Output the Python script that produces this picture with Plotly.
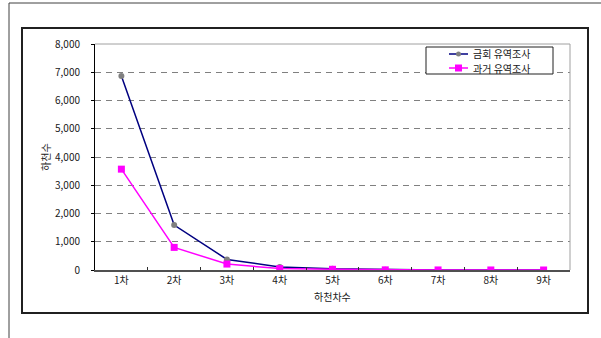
import plotly.graph_objects as go

# Stream order categories and counts per survey
orders = ["1차", "2차", "3차", "4차", "5차", "6차", "7차", "8차", "9차"]
current_survey = [6870, 1590, 375, 110, 40, 10, 4, 1, 0]
past_survey = [3570, 800, 210, 50, 25, 5, 2, 1, 0]
y_ticks = [0, 1000, 2000, 3000, 4000, 5000, 6000, 7000, 8000]
y_tick_text = ["0", "1,000", "2,000", "3,000", "4,000", "5,000", "6,000", "7,000", "8,000"]
series_names = ["금회 유역조사", "과거 유역조사"]
line_colors = ["#000080", "#FF00FF"]
marker_colors = ["#808080", "#FF00FF"]

W, H = 601, 338
PL, PR, PT, PB = 95, 570, 44, 270  # plot area in pixels


def px(x):
    return (x - PL) / (PR - PL)


def py(y):
    return (PB - y) / (PB - PT)


FONT = "Noto Sans CJK KR, DejaVu Sans, sans-serif"
TXT = "#202020"

fig = go.Figure()
fig.add_trace(go.Scatter(
    x=orders, y=current_survey, name=series_names[0], mode="lines+markers",
    line=dict(color=line_colors[0], width=1.5),
    marker=dict(symbol="circle", size=6, color=marker_colors[0]),
))
fig.add_trace(go.Scatter(
    x=orders, y=past_survey, name=series_names[1], mode="lines+markers",
    line=dict(color=line_colors[1], width=1.5),
    marker=dict(symbol="square", size=7, color=marker_colors[1]),
))

shapes = [
    # outer page frame (left and top edges)
    dict(type="line", xref="paper", yref="paper", x0=px(9), x1=px(9), y0=py(3), y1=py(340),
         line=dict(color="#404040", width=1)),
    dict(type="line", xref="paper", yref="paper", x0=px(9), x1=px(602), y0=py(3), y1=py(3),
         line=dict(color="#404040", width=1)),
    # chart box
    dict(type="rect", xref="paper", yref="paper", x0=px(22), x1=px(588), y0=py(28), y1=py(313),
         line=dict(color="#202020", width=2)),
    # plot area top and right border
    dict(type="line", xref="paper", yref="paper", x0=0, x1=1, y0=1, y1=1,
         line=dict(color="#A0A0A0", width=1)),
    dict(type="line", xref="paper", yref="paper", x0=1, x1=1, y0=0, y1=1,
         line=dict(color="#A0A0A0", width=1)),
    # legend box
    dict(type="rect", xref="paper", yref="paper", x0=px(426), x1=px(553), y0=py(47), y1=py(74),
         line=dict(color="#202020", width=1), fillcolor="white", layer="above"),
]

annotations = [
    dict(text="하천수", xref="paper", yref="paper", x=px(45), y=py(157),
         xanchor="center", yanchor="middle",
         showarrow=False, textangle=-90, font=dict(family=FONT, size=10, color=TXT)),
    dict(text="하천차수", xref="paper", yref="paper", x=px(332), y=py(296),
         xanchor="center", yanchor="middle",
         showarrow=False, font=dict(family=FONT, size=10, color=TXT)),
]

# legend rows: line sample, marker sample, label
row_y = [54, 68]
for i, yy in enumerate(row_y):
    shapes.append(dict(type="line", xref="paper", yref="paper", x0=px(449), x1=px(468),
                       y0=py(yy), y1=py(yy), line=dict(color=line_colors[i], width=1.5),
                       layer="above"))
    if i == 0:
        shapes.append(dict(type="circle", xref="paper", yref="paper",
                           x0=px(456), x1=px(461), y0=py(yy - 2.5), y1=py(yy + 2.5),
                           fillcolor=marker_colors[i], line=dict(width=0), layer="above"))
    else:
        shapes.append(dict(type="rect", xref="paper", yref="paper",
                           x0=px(455), x1=px(462), y0=py(yy - 3.5), y1=py(yy + 3.5),
                           fillcolor=marker_colors[i], line=dict(width=0), layer="above"))
    annotations.append(dict(text=series_names[i], xref="paper", yref="paper",
                            x=px(471), y=py(yy), xanchor="left", yanchor="middle",
                            showarrow=False, font=dict(family=FONT, size=10, color=TXT)))

fig.update_layout(
    width=W, height=H,
    margin=dict(l=PL, r=W - PR, t=PT, b=H - PB),
    paper_bgcolor="white", plot_bgcolor="white",
    font=dict(family=FONT, size=10, color=TXT),
    showlegend=False,
    shapes=shapes,
    annotations=annotations,
)

fig.update_xaxes(
    type="category", range=[-0.5, 8.5],
    showline=True, linecolor="#505050", linewidth=2,
    ticks="inside", ticklen=3, tickcolor="#303030", tickson="boundaries",
    showgrid=False, zeroline=False,
    tickfont=dict(family=FONT, size=10, color=TXT),
)
fig.update_yaxes(
    range=[0, 8000], tickvals=y_ticks, ticktext=y_tick_text,
    showline=True, linecolor="#000000", linewidth=1,
    ticks="outside", ticklen=3, tickcolor="#000000",
    ticklabelstandoff=9,
    showgrid=True, gridcolor="#808080", griddash="6px,5px", gridwidth=1,
    zeroline=False,
    tickfont=dict(family=FONT, size=10, color=TXT),
)

fig.write_html("out.html")
